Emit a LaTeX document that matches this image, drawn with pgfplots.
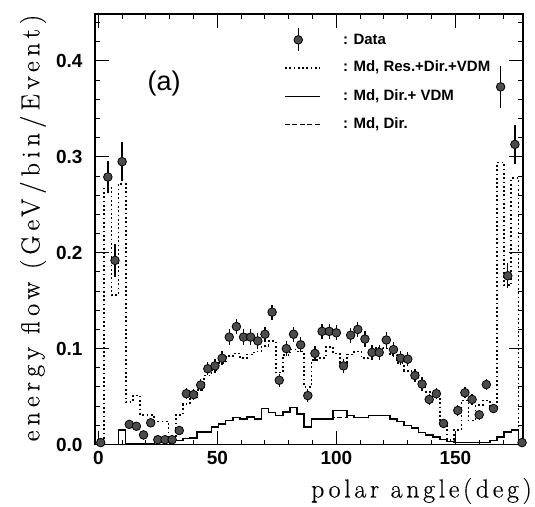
\documentclass[border=0pt]{standalone}
\usepackage{fontspec}
\newfontfamily\tickfont{Liberation Sans}
\newfontfamily\labfontx{Latin Modern Roman}[LetterSpace=14, FakeBold=0.4]
\newfontfamily\labfonty{Latin Modern Roman}[LetterSpace=20, FakeBold=0.4]
\usepackage{pgfplots}
\usepackage{pgfplotstable}
\pgfplotsset{compat=1.18}

% data points: bin centre, value, error
\pgfplotstableread{
x y e
1 0.002 0
4 0.279 0.017
7 0.192 0.017
10 0.295 0.020
13 0.021 0.004
16 0.019 0.004
19 0.010 0.005
22 0.0226 0.004
25 0.005 0.003
28 0.005 0.003
31 0.005 0.003
34 0.0146 0.004
37 0.053 0.006
40 0.052 0.006
43 0.062 0.006
46 0.079 0.007
49 0.082 0.007
52 0.090 0.007
55 0.112 0.008
58 0.123 0.008
61 0.112 0.008
64 0.112 0.008
67 0.108 0.008
70 0.115 0.008
73 0.138 0.008
76 0.067 0.007
79 0.100 0.008
82 0.115 0.008
85 0.104 0.008
88 0.051 0.007
91 0.095 0.008
94 0.118 0.008
97 0.118 0.008
100 0.1165 0.008
103 0.082 0.007
106 0.114 0.008
109 0.120 0.008
112 0.110 0.008
115 0.096 0.008
118 0.096 0.008
121 0.109 0.008
124 0.099 0.008
127 0.090 0.007
130 0.089 0.007
133 0.072 0.007
136 0.063 0.007
139 0.047 0.006
142 0.053 0.006
145 0.022 0.005
151 0.0355 0.006
154 0.054 0.006
157 0.047 0.006
160 0.031 0.005
163 0.0625 0.006
166 0.0375 0.005
169 0.373 0.022
172 0.176 0.013
175 0.313 0.020
178 0.002 0
}\datatab

% histograms: left bin edge, Res+Dir+VDM, Dir+VDM, Dir
\pgfplotstableread{
x res dv dir
-0.5 0.000 0.001 0.001
2.5 0.268 0.000 0.000
5.5 0.156 0.000 0.000
8.5 0.272 0.015 0.000
11.5 0.044 0.001 0.001
14.5 0.051 0.001 0.001
17.5 0.031 0.001 0.001
20.5 0.031 0.001 0.001
23.5 0.024 0.002 0.002
26.5 0.024 0.002 0.002
29.5 0.003 0.003 0.003
32.5 0.031 0.004 0.004
35.5 0.042 0.006 0.006
38.5 0.048 0.007 0.007
41.5 0.057 0.013 0.013
44.5 0.072 0.013 0.013
47.5 0.078 0.018 0.018
50.5 0.085 0.0214 0.0214
53.5 0.092 0.025 0.025
56.5 0.095 0.028 0.028
59.5 0.090 0.0265 0.0265
62.5 0.094 0.0287 0.0287
65.5 0.097 0.0265 0.0265
68.5 0.103 0.0378 0.0378
71.5 0.108 0.0336 0.0336
74.5 0.075 0.030 0.030
77.5 0.093 0.034 0.034
80.5 0.099 0.0388 0.0388
83.5 0.097 0.0318 0.0318
86.5 0.060 0.018 0.018
89.5 0.088 0.0266 0.0266
92.5 0.090 0.0266 0.0266
95.5 0.102 0.0266 0.0266
98.5 0.095 0.0353 0.028
101.5 0.085 0.0353 0.028
104.5 0.094 0.030 0.030
107.5 0.097 0.028 0.028
110.5 0.090 0.028 0.028
113.5 0.095 0.030 0.030
116.5 0.101 0.030 0.030
119.5 0.100 0.030 0.030
122.5 0.093 0.0265 0.0265
125.5 0.085 0.024 0.024
128.5 0.077 0.020 0.020
131.5 0.075 0.017 0.017
134.5 0.064 0.0127 0.0127
137.5 0.055 0.010 0.010
140.5 0.050 0.008 0.008
143.5 0.019 0.005 0.005
146.5 0.005 0.003 0.003
149.5 0.015 0.002 0.002
152.5 0.046 0.002 0.002
155.5 0.025 0.002 0.002
158.5 0.041 0.002 0.002
161.5 0.046 0.002 0.002
164.5 0.039 0.004 0.004
167.5 0.294 0.008 0.008
170.5 0.166 0.013 0.013
173.5 0.278 0.015 0.015
176.5 0.000 0.002 0.002
179.5 0.000 0.002 0.002
}\histtab

\begin{document}
\begin{tikzpicture}
\begin{axis}[
  name=ax,
  width=428pt, height=430.5pt, scale only axis,
  xmin=-1.4, xmax=178.4, ymin=0, ymax=0.449,
  xtick={0,50,100,150},
  minor xtick={10,20,30,40,60,70,80,90,110,120,130,140,160,170},
  ytick={0,0.1,0.2,0.3,0.4},
  minor ytick={0.02,0.04,0.06,0.08,0.12,0.14,0.16,0.18,0.22,0.24,0.26,0.28,0.32,0.34,0.36,0.38,0.42,0.44},
  tick align=inside,
  major tick length=14pt, minor tick length=5pt,
  every tick/.style={black, line width=1pt},
  axis line style={line width=1.3pt},
  /pgf/number format/assume math mode=true,
  ticklabel style={font=\tickfont\bfseries\fontsize{19}{19}\selectfont},
  yticklabel style={/pgf/number format/.cd, fixed, fixed zerofill, precision=1, /tikz/xshift=-9pt},
  xticklabel style={yshift=-3pt},
  xlabel={polar angle(deg)},
  xlabel style={at={(axis description cs:1.021,-0.108)}, anchor=east, font=\labfontx\fontsize{26}{26}\selectfont, inner sep=0pt},
  ylabel={energy flow (GeV/bin/Event)},
  ylabel style={at={(axis description cs:-0.145,0.503)}, anchor=center, font=\labfonty\fontsize{26}{26}\selectfont, inner sep=0pt},
  clip=true,
]
% Dir. (dashed)
\addplot[const plot, black, line width=1.2pt, dash pattern=on 5pt off 2.5pt] table[x=x, y=dir] {\histtab};
% Dir.+VDM (solid)
\addplot[const plot, black, line width=1.5pt] table[x=x, y=dv] {\histtab};
% Res.+Dir.+VDM (dotted)
\addplot[const plot, black, line width=1.7pt, dash pattern=on 1.7pt off 2.6pt] table[x=x, y=res] {\histtab};
% data
\addplot[only marks, mark=*, mark size=4.3pt, mark options={fill=black!70, draw=black, line width=0.8pt},
  error bars/.cd, y dir=both, y explicit, error mark=none,
  error bar style={line width=1.3pt, black}]
  table[x=x, y=y, y error=e] {\datatab};

% legend samples
\addplot[only marks, mark=*, mark size=4.3pt, mark options={fill=black!70, draw=black, line width=0.8pt},
  error bars/.cd, y dir=both, y explicit, error mark=none,
  error bar style={line width=1.3pt, black}]
  coordinates {(84,0.422) +- (0,0.012)};
\addplot[black, line width=1.7pt, dash pattern=on 1.7pt off 2.6pt] coordinates {(78.4,0.393) (93.1,0.393)};
\addplot[black, line width=1.5pt] coordinates {(78.4,0.363) (93.1,0.363)};
\addplot[black, line width=1.2pt, dash pattern=on 5pt off 2.5pt] coordinates {(78.4,0.334) (93.1,0.334)};
\begin{scope}[every node/.style={anchor=west, font=\tickfont\bfseries\fontsize{15}{15}\selectfont, inner sep=0pt}]
\node at (axis cs:102.7,0.422) {: Data};
\node at (axis cs:102.7,0.393) {: Md, Res.+Dir.+VDM};
\node at (axis cs:102.7,0.363) {: Md, Dir.+ VDM};
\node at (axis cs:102.7,0.334) {: Md, Dir.};
\end{scope}
\node[font=\tickfont\fontsize{27}{27}\selectfont] at (axis cs:27.6,0.376) {(a)};
\end{axis}
\pgfresetboundingbox
\path[use as bounding box] (ax.south west) ++(-95pt,-61.5pt) rectangle ++(535pt,506pt);
\end{tikzpicture}
\end{document}
